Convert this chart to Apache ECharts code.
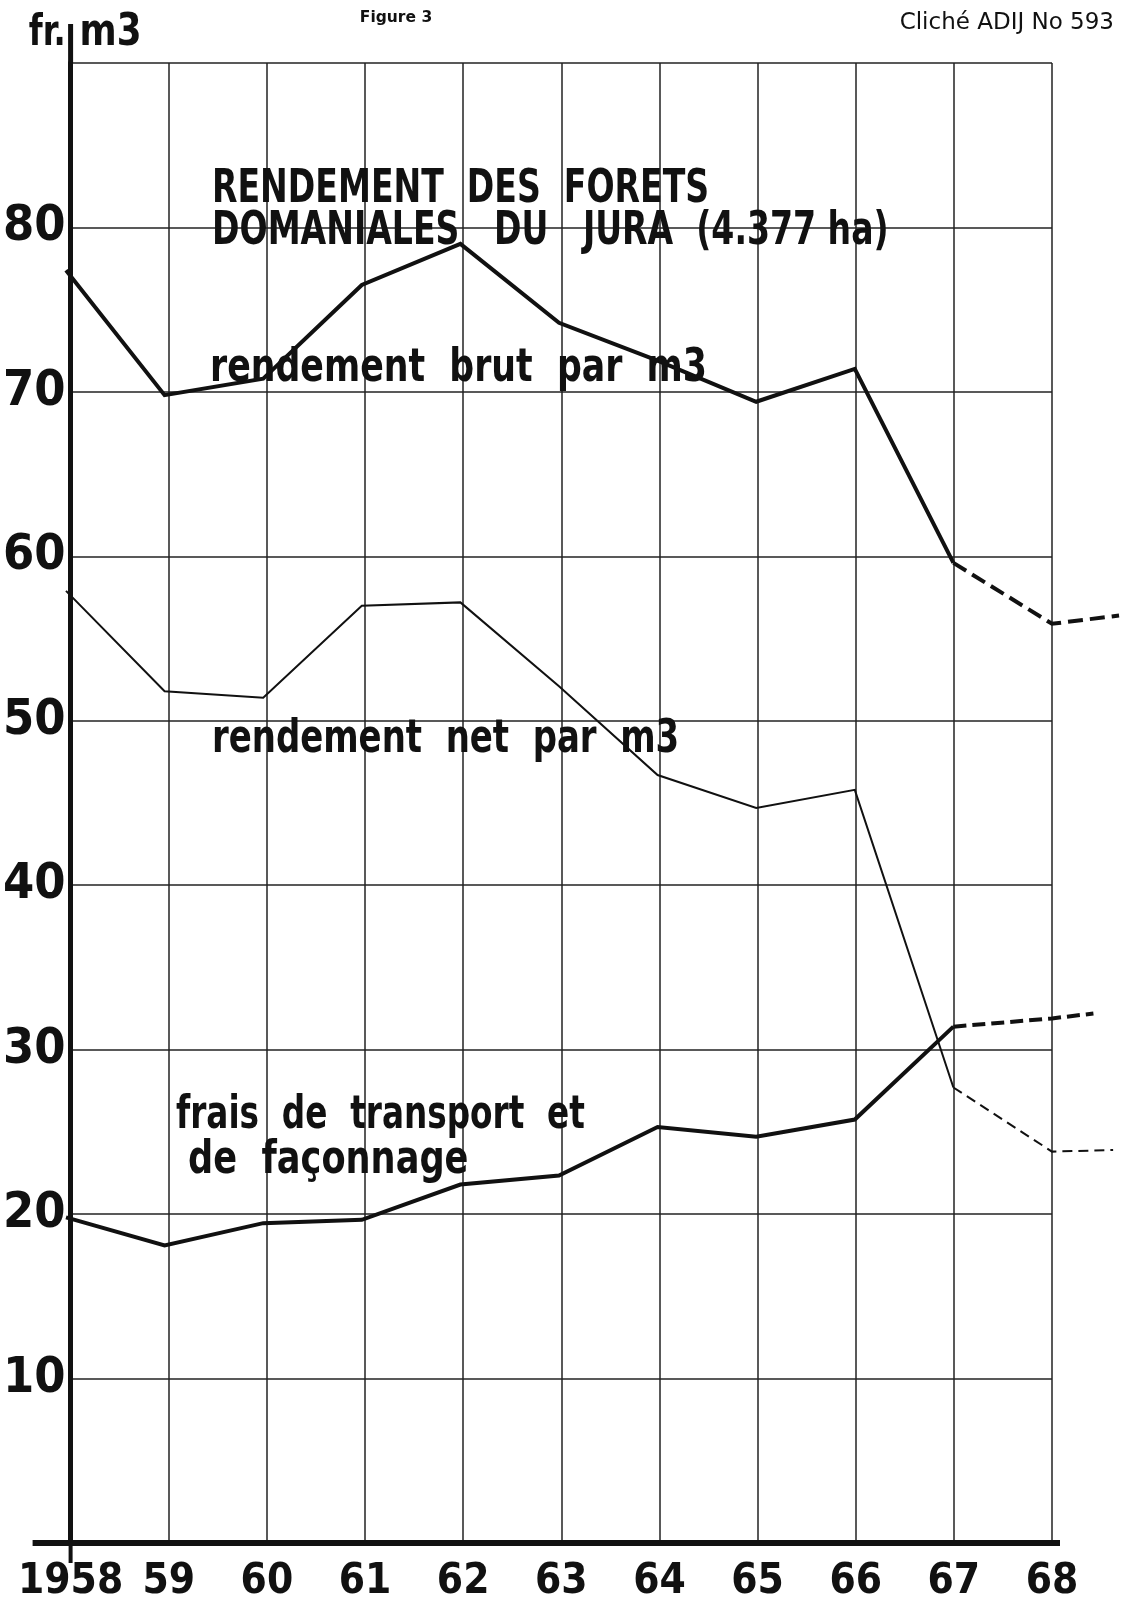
<!DOCTYPE html>
<html>
<head>
<meta charset="utf-8">
<script src="https://cdn.jsdelivr.net/npm/echarts@6/dist/echarts.min.js"></script>
<style>
html,body{margin:0;padding:0;background:#fff;}
#c{width:1124px;height:1609px;}
</style>
</head>
<body>
<div id="c"></div>
<script>
// ---- data ----
var years = [1958, 1959, 1960, 1961, 1962, 1963, 1964, 1965, 1966, 1967];
var brutValues = [77.4, 69.8, 70.8, 76.5, 79.0, 74.2, 71.9, 69.4, 71.4, 59.6];
var netValues = [57.9, 51.8, 51.4, 57.0, 57.2, 52.1, 46.7, 44.7, 45.8, 27.7];
var fraisValues = [19.8, 18.1, 19.45, 19.65, 21.8, 22.35, 25.3, 24.7, 25.75, 31.4];
// dashed (estimated) continuation
var brutDashYears = [1967, 1968, 1968.68];
var brutDashValues = [59.6, 55.9, 56.4];
var netDashYears = [1967, 1968, 1968.62];
var netDashValues = [27.7, 23.8, 23.9];
var fraisDashYears = [1967, 1968, 1968.42];
var fraisDashValues = [31.4, 31.9, 32.2];
var yTickLabels = ['10', '20', '30', '40', '50', '60', '70', '80'];

function pairs(xs, ys) { return xs.map(function (x, i) { return [x, ys[i]]; }); }

var INK = '#111';
var FONT = '"DejaVu Sans Condensed", "DejaVu Sans", sans-serif';

var W = 1124;
var GL = 66, GT = 63, GB = 66, GW = 986; // main grid geometry
var YEAR_MIN = 1958, YEAR_MAX = 1968;
// overlay grid reaches the page edge with the same px-per-year scale
var YEAR_MAX2 = YEAR_MIN + (YEAR_MAX - YEAR_MIN) * (W - GL) / GW;

var chart = echarts.init(document.getElementById('c'), null, {renderer: 'canvas'});

function lineSeries(name, data, width, dashed) {
  return {
    type: 'line', name: name, data: data, symbol: 'none', clip: false, z: 5,
    xAxisIndex: 1, yAxisIndex: 1,
    lineStyle: {color: INK, width: width, type: dashed ? dashed : 'solid', cap: 'butt', join: 'miter'},
    animation: false
  };
}

var option = {
  backgroundColor: '#fff',
  animation: false,
  grid: [
    {left: GL, top: GT, bottom: GB, width: GW, containLabel: false},
    {left: GL, top: GT, bottom: GB, right: 0, containLabel: false}
  ],
  xAxis: [{
    gridIndex: 0, type: 'value', min: YEAR_MIN, max: YEAR_MAX, interval: 1,
    axisLine: {show: true, onZero: false, lineStyle: {color: INK, width: 6}},
    axisTick: {show: false},
    splitLine: {show: true, lineStyle: {color: '#222', width: 1.5}},
    axisLabel: {
      margin: 18, color: INK, fontFamily: FONT, fontSize: 42, fontWeight: 'bold',
      formatter: function (v) { return v === 1958 ? '1958' : String(v).slice(2); }
    }
  }, {
    gridIndex: 1, type: 'value', min: YEAR_MIN, max: YEAR_MAX2, show: false
  }],
  yAxis: [{
    gridIndex: 0, type: 'value', min: 0, max: 90, interval: 10,
    axisLine: {show: true, lineStyle: {color: INK, width: 5}},
    axisTick: {show: false},
    splitLine: {show: true, lineStyle: {color: '#222', width: 1.5}},
    axisLabel: {
      margin: 5, color: INK, fontFamily: FONT, fontSize: 50, fontWeight: 'bold',
      formatter: function (v) { return yTickLabels.indexOf(String(v)) >= 0 ? String(v) : ''; }
    }
  }, {
    gridIndex: 1, type: 'value', min: 0, max: 90, show: false
  }],
  series: [
    lineSeries('rendement brut par m3', pairs(years, brutValues), 4),
    lineSeries('rendement brut (est.)', pairs(brutDashYears, brutDashValues), 4, [15, 7]),
    lineSeries('rendement net par m3', pairs(years, netValues), 2),
    lineSeries('rendement net (est.)', pairs(netDashYears, netDashValues), 2, [10, 6]),
    lineSeries('frais de transport et de façonnage', pairs(years, fraisValues), 4),
    lineSeries('frais (est.)', pairs(fraisDashYears, fraisDashValues), 4, [13, 6])
  ]
};
chart.setOption(option);

// decorations: axis extensions and texts
var pTop = chart.convertToPixel({gridIndex: 0}, [1958, 90]);
var pOrig = chart.convertToPixel({gridIndex: 0}, [1958, 0]);
var pEnd = chart.convertToPixel({gridIndex: 0}, [1968, 0]);

function txt(x, y, s, size, opts) {
  opts = opts || {};
  return {
    type: 'text', x: x, y: y, z: 10, scaleX: opts.sx || 1, originX: 0, originY: 0,
    style: {
      text: s, fill: INK, fontFamily: opts.family || FONT, fontSize: size,
      fontWeight: opts.weight || 'bold', textAlign: opts.align || 'left', textVerticalAlign: 'middle'
    }
  };
}

chart.setOption({
  graphic: [
    {type: 'line', z: 6, shape: {x1: pTop[0], y1: pTop[1], x2: pTop[0], y2: 24}, style: {stroke: INK, lineWidth: 5}},
    {type: 'line', z: 6, shape: {x1: pOrig[0], y1: pOrig[1], x2: pOrig[0], y2: pOrig[1] + 20}, style: {stroke: INK, lineWidth: 4}},
    {type: 'line', z: 6, shape: {x1: pOrig[0] - 38, y1: pOrig[1], x2: pEnd[0] + 8, y2: pEnd[1]}, style: {stroke: INK, lineWidth: 6}},
    txt(pTop[0] - 5, 34, 'fr.', 42, {align: 'right', sx: 0.85}),
    txt(pTop[0] + 9, 34, 'm3', 44, {sx: 0.9}),
    txt(396, 18, 'Figure 3', 15.5, {family: '"DejaVu Sans", sans-serif', align: 'center'}),
    txt(1114, 23, 'Cliché ADIJ No 593', 23, {family: '"DejaVu Sans", sans-serif', weight: 'normal', align: 'right'}),
    txt(212, 190, 'RENDEMENT  DES  FORETS', 46, {sx: 0.8}),
    txt(212, 232, 'DOMANIALES   DU   JURA  (4.377 ha)', 46, {sx: 0.8}),
    txt(210, 369, 'rendement  brut  par  m3', 46, {sx: 0.84}),
    txt(212, 740, 'rendement  net  par  m3', 46, {sx: 0.82}),
    txt(176, 1116, 'frais  de  transport  et', 46, {sx: 0.79}),
    txt(188, 1161, 'de  façonnage', 46, {sx: 0.85})
  ]
});
</script>
</body>
</html>
